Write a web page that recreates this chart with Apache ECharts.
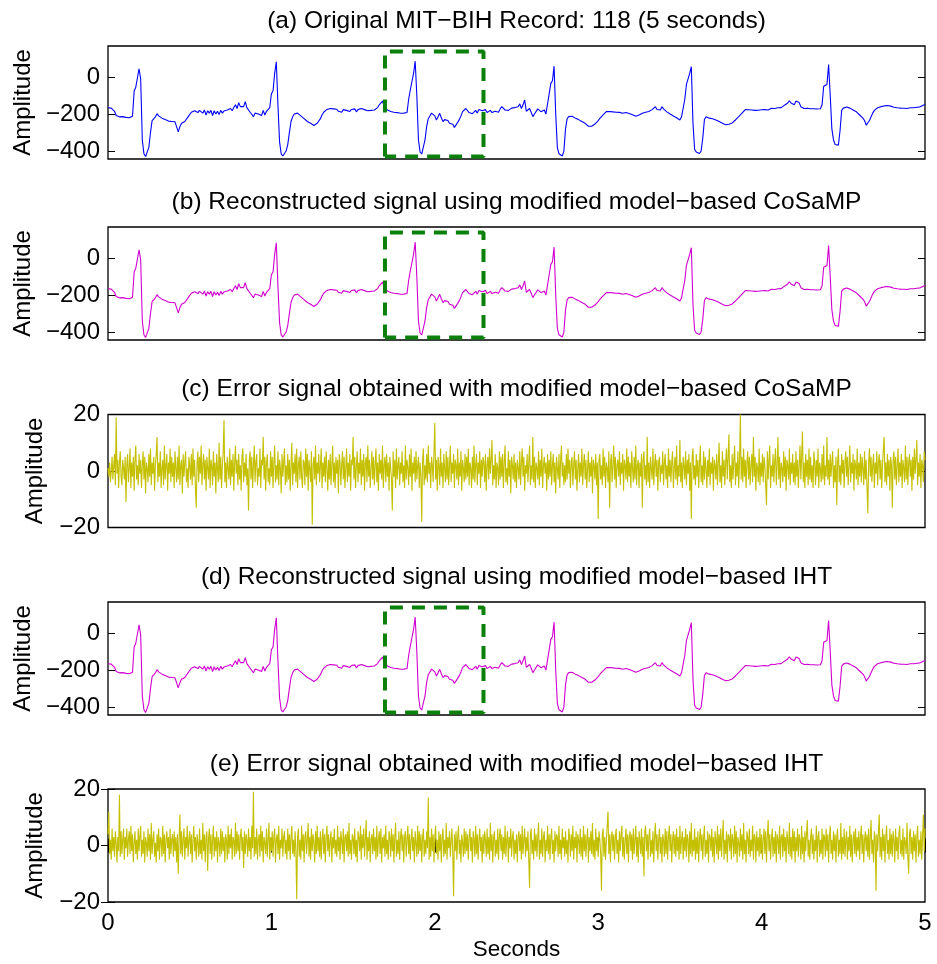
<!DOCTYPE html>
<html>
<head>
<meta charset="utf-8">
<title>ECG reconstruction</title>
<script src="https://cdn.jsdelivr.net/npm/echarts@6/dist/echarts.min.js"></script>
<style>html,body{margin:0;padding:0;background:#fff}#chart{width:937px;height:964px}</style>
</head>
<body>
<div id="chart"></div>
<script>
// ---- data ----
const ecgStep = 0.01;   // seconds between listed ECG values
const errStep = 0.005;  // seconds between listed error values
const xTickLabels = [0, 1, 2, 3, 4, 5];
const ecgTicks = [-400, -200, 0];
const errTicks = [-20, 0, 20];
const panelTitles = [
  '(a) Original MIT\u2212BIH Record: 118 (5 seconds)',
  '(b) Reconstructed signal using modified model\u2212based CoSaMP',
  '(c) Error signal obtained with modified model\u2212based CoSaMP',
  '(d) Reconstructed signal using modified model\u2212based IHT',
  '(e) Error signal obtained with modified model\u2212based IHT'
];
// highlighted beat (dashed box): time and amplitude corners
const boxTimes = [1.695, 1.695, 2.298, 2.298, 1.695];
const boxAmps = [-430, 138, 138, -430, -430];

const originalSignal = [
-166,-165,-168,-175,-185,-208,-212,-215,-210,-214,-212,-218,-216,-220,-215,-212,-75,-55,-45,45,
-10,-340,-415,-430,-425,-380,-300,-235,-225,-215,-198,-210,-205,-222,-215,-230,-226,-238,-232,-240,
-236,-242,-252,-296,-268,-250,-256,-240,-232,-215,-208,-190,-200,-182,-178,-192,-180,-186,-195,-178,
-205,-182,-195,-180,-208,-182,-200,-185,-202,-180,-195,-183,-190,-178,-185,-170,-182,-165,-150,-170,
-138,-160,-150,-160,-133,-165,-170,-190,-200,-214,-195,-205,-200,-190,-208,-180,-205,-185,-175,-165,
-90,-75,20,83,-150,-350,-415,-427,-420,-400,-365,-300,-240,-215,-200,-208,-195,-205,-210,-215,
-225,-218,-240,-235,-250,-245,-262,-268,-250,-240,-225,-205,-190,-185,-175,-178,-170,-176,-172,-180,
-174,-185,-178,-190,-176,-185,-180,-172,-186,-175,-180,-172,-188,-176,-184,-170,-180,-176,-168,-182,
-175,-180,-172,-178,-175,-165,-150,-140,-130,-155,-162,-178,-180,-186,-182,-190,-185,-192,-188,-196,
-190,-195,-188,-192,-120,-70,-65,20,86,-100,-340,-405,-416,-412,-340,-268,-225,-210,-195,-187,
-210,-232,-215,-196,-220,-241,-230,-240,-235,-250,-259,-255,-272,-262,-245,-230,-210,-187,-195,-170,
-180,-192,-185,-198,-190,-180,-195,-175,-170,-182,-188,-176,-192,-185,-180,-192,-196,-185,-178,-190,
-172,-160,-151,-178,-170,-180,-175,-168,-172,-165,-170,-160,-145,-170,-150,-124,-185,-175,-170,-190,
-214,-200,-190,-172,-170,-187,-180,-178,-200,-210,-90,-34,-20,59,-200,-380,-415,-425,-427,-400,
-280,-225,-214,-210,-212,-218,-222,-226,-230,-235,-240,-246,-250,-258,-266,-272,-266,-260,-254,-245,
-235,-224,-215,-205,-195,-187,-192,-186,-193,-188,-196,-190,-197,-191,-189,-196,-199,-192,-194,-197,
-200,-204,-208,-212,-208,-205,-200,-196,-192,-190,-188,-186,-182,-176,-172,-160,-175,-185,-178,-160,
-172,-180,-188,-195,-200,-205,-210,-214,-220,-225,-232,-215,-210,-120,-40,-34,20,56,-250,-390,
-405,-410,-413,-400,-330,-230,-214,-218,-222,-220,-225,-228,-232,-236,-240,-245,-250,-255,-258,-260,
-255,-250,-248,-240,-232,-225,-214,-205,-195,-185,-176,-170,-177,-174,-178,-172,-180,-173,-179,-172,
-177,-171,-176,-170,-178,-173,-169,-176,-170,-174,-166,-172,-165,-160,-152,-150,-140,-128,-140,-150,
-150,-130,-121,-138,-160,-166,-170,-164,-169,-164,-171,-165,-171,-166,-173,-175,-171,-150,-50,-43,
-40,68,-100,-280,-340,-365,-373,-368,-290,-180,-168,-164,-162,-165,-168,-172,-178,-182,-188,-195,
-205,-212,-222,-235,-260,-255,-235,-215,-195,-180,-172,-166,-165,-160,-163,-156,-158,-154,-161,-157,
-155,-163,-160,-166,-161,-168,-162,-169,-164,-170,-163,-166,-160,-166,-159,-163,-157,-161,-154,-152,
-148
];
// At this scale the two reconstructions read the same as the original trace.
const reconstructedCoSaMP = originalSignal;
const reconstructedIHT = originalSignal;

const errorCoSaMP = [
1,-2,3,-4,0,5,-3,2,6,-5,19,-1,4,-6,3,7,-2,-5,4,1,
-3,5,-11,2,6,-4,1,8,-6,3,-2,5,-7,4,9,-3,2,-5,6,-1,
4,-6,2,7,-3,5,-8,3,1,-4,6,-2,8,-5,3,-1,5,-7,2,6,
12,-4,3,-2,7,-6,1,4,-5,9,-3,2,6,-7,3,-1,8,-4,5,-2,
3,-6,7,1,-4,5,-3,9,-5,2,4,-8,6,-2,3,7,-4,1,-6,5,
2,-3,6,-5,8,-2,4,-6,-13,3,7,-4,5,-1,9,-5,2,6,-3,4,
-7,5,1,-3,8,-6,4,2,-5,7,-2,3,-8,6,1,-4,10,-3,5,-6,
2,7,18,-4,3,-6,5,1,-3,8,-5,4,-2,6,-7,3,9,-1,4,-5,
6,-3,2,-7,5,8,-4,3,-2,6,-5,1,-14,4,7,-3,5,-6,2,9,
-4,3,6,-5,1,-2,8,-6,4,2,12,-3,5,-7,3,6,-4,1,-5,7,
-2,5,-6,3,9,-4,2,-3,7,-5,4,1,-8,6,-2,3,8,-5,2,-4,
6,-3,4,-7,2,10,-5,3,-1,6,-4,8,-6,2,5,-3,7,-2,-6,4,
3,-5,8,-2,6,-7,4,1,-4,7,-19,2,5,-3,9,-5,3,-1,6,-4,
2,8,-6,3,-2,5,-4,7,1,-7,4,-3,6,-5,2,9,-4,3,-6,5,
-1,4,-8,6,3,-5,2,7,-3,5,-6,1,8,-4,3,-2,6,-7,4,2,
12,-3,5,-6,2,7,-4,3,-1,8,-5,4,-2,6,-7,3,5,-4,9,-2,
4,-6,1,7,-3,5,-5,2,8,-4,3,-7,6,-1,4,-3,9,-6,2,5,
-4,6,-2,3,-7,5,1,-3,-14,7,-2,4,-6,8,-3,2,5,-5,3,-1,
7,-4,2,-6,9,-3,4,1,-5,6,-2,8,-7,3,-1,5,-4,7,-3,2,
5,-6,3,-2,-18,4,8,-5,2,-3,6,-4,9,-1,3,-6,5,2,-4,7,
17,-3,4,-7,5,2,-5,8,-2,3,-6,6,1,-4,7,-3,5,-5,2,9,
-4,3,-1,6,-6,4,2,-3,8,-5,3,-2,7,-7,4,1,-4,6,-3,5,
-2,8,-5,3,1,-6,5,-3,9,-4,2,6,-5,3,-1,7,-6,4,-2,5,
3,-4,6,-7,2,5,-3,8,-1,4,11,-5,2,-3,6,-6,3,1,-5,7,
-3,5,-2,6,-6,3,9,-4,1,-5,7,-2,4,-8,5,2,-3,6,-4,3,
-6,4,1,-3,7,-5,3,8,-2,5,-7,2,-1,6,-4,3,9,-5,2,-3,
12,-4,5,-6,3,1,-3,7,-5,4,-2,8,-6,2,5,-1,3,-7,6,-3,
4,-2,7,-5,2,6,-4,3,-8,5,1,-3,6,-6,4,9,-2,3,-5,2,
-4,6,-3,8,-1,4,-6,3,5,-5,2,7,-3,4,-7,1,6,-4,3,-2,
8,-5,2,6,-3,4,-6,1,7,-4,3,-2,5,-8,4,2,-3,6,-5,3,
-17,4,6,-3,2,-5,8,-2,5,-6,3,1,-4,7,-13,3,6,-4,2,9,
-3,5,-6,2,4,-2,7,-5,3,-1,6,-7,4,2,-3,8,-4,5,-2,3,
-6,7,1,-4,5,-3,9,-5,2,4,-6,3,-2,6,-13,4,7,-3,2,-5,
12,-4,3,-6,5,1,-3,8,-5,2,6,-2,4,-7,3,5,-4,2,-1,7,
-5,3,6,-3,2,-6,8,-2,4,-4,3,7,-6,1,5,-3,9,-5,2,-2,
11,-4,3,-6,5,2,-3,7,-5,4,-1,6,-7,3,-17,5,8,-3,2,-5,
6,-2,4,-6,3,9,-4,2,-5,7,-3,5,1,-6,4,-2,8,-5,3,-1,
5,-7,4,2,-3,6,-5,3,10,-4,2,-6,7,-2,4,-5,3,8,-3,5,
13,-4,2,-6,6,-3,4,9,-5,3,-2,7,-6,4,20,-3,5,-4,8,-2,
4,-6,3,7,-3,5,-5,2,6,-4,12,-2,5,-7,3,1,-4,8,-5,3,
-2,6,-4,5,2,-5,-12,7,-3,4,9,-6,2,-2,6,-4,3,8,-5,2,
12,-3,5,-6,3,1,-4,7,-2,5,-7,4,2,-3,8,-5,3,-1,6,-4,
3,-5,7,-2,4,-6,2,9,-3,5,14,-4,3,-6,6,-2,4,-5,8,-3,
5,-4,2,-6,7,3,-5,4,-2,8,-6,3,1,-4,6,-3,9,-5,2,-2,
12,-3,4,-5,6,-2,3,7,-6,2,-4,5,-12,3,8,-4,2,-5,6,-1,
4,-6,3,7,-2,5,-5,2,9,-4,3,-1,6,-7,4,2,-3,8,-5,3,
-2,6,-4,5,1,-5,7,-3,4,-6,-15,3,8,-2,5,-4,2,6,-6,3,
-1,7,-5,3,6,-3,4,-6,2,8,12,-4,3,-5,6,-2,4,-7,5,2,
-13,4,7,-3,5,-5,2,8,-4,3,-2,6,-6,4,1,-4,9,-3,5,-5,
3,6,-2,4,-7,5,-3,8,-1,4,11,-5,3,-2,6,-6,4,2,-4,7,
4
];

const errorIHT = [
4,12,-3,2,-5,6,-2,3,-4,5,1,-6,3,-2,18,-4,5,-3,2,6,
-5,3,-1,6,-4,2,5,-3,7,-2,4,-6,1,5,-3,2,-5,6,-2,3,
7,-4,2,-3,5,-6,3,1,-4,6,-2,4,-5,8,-3,2,5,-4,1,-6,
4,-2,6,-5,3,2,-4,7,-3,4,-6,2,5,-1,3,-5,6,-3,2,4,
-4,5,-2,3,-6,4,-10,2,11,-3,5,-4,2,6,-5,3,-1,7,-4,2,
5,-3,4,-6,2,7,-2,3,-5,4,1,-4,6,-3,2,-5,8,-2,4,-6,
3,5,-9,2,6,-3,4,-5,2,7,-4,3,-2,5,-6,3,1,-4,6,-3,
5,-2,3,-6,4,2,-5,7,-3,4,-1,6,-5,3,2,-4,8,-3,5,-2,
4,-5,3,6,-2,3,-8,5,-3,4,2,-4,6,-2,3,-5,7,-1,19,-4,
3,-3,6,-5,2,4,-4,7,-2,5,-6,3,1,-3,6,-4,2,8,-5,3,
-2,5,-4,3,6,-6,2,4,-3,7,-5,2,-1,6,-4,3,5,-3,2,-5,
6,-2,4,-5,3,7,-3,2,-4,5,-2,-19,3,6,-4,2,-5,7,-2,4,
-6,3,5,-3,2,8,-4,3,-5,6,-2,4,1,-6,5,-3,7,-2,3,-4,
5,-5,2,6,-3,4,-6,3,7,-2,4,-4,2,5,-6,3,-1,6,-3,2,
-4,7,-2,3,-5,5,2,-3,6,-6,3,4,-2,5,-4,8,-3,2,-5,4,
3,-3,6,-4,2,-6,5,3,-2,7,-5,4,-1,6,-4,2,9,-5,3,-2,
5,-6,2,4,-3,6,-2,3,-5,7,-4,2,5,-3,6,-6,3,-1,4,-4,
7,-3,2,-5,5,3,-4,6,-2,4,-6,3,8,-4,2,-3,5,-5,3,6,
-2,4,-6,3,5,-4,2,7,-3,4,-5,2,6,-2,3,-6,5,1,-4,7,
-3,5,-2,4,-6,3,6,-4,2,-3,5,-1,17,-5,3,-4,6,-2,4,-6,
3,7,-3,2,-5,5,-2,4,-6,3,6,-4,2,-3,8,-5,3,-1,5,-4,
2,6,-3,-18,4,-2,5,-5,3,7,-3,2,-6,4,1,-4,6,-3,5,-2,
4,-5,3,6,-2,3,-6,5,2,-4,7,-3,4,-5,2,6,-2,3,-6,4,
-3,5,2,-4,6,-3,3,-5,8,-2,4,-6,3,5,-4,2,-3,6,-5,3,
6,-2,4,-5,3,-3,7,-4,2,5,-6,3,-1,6,-4,3,5,-5,2,-3,
4,-6,3,5,-2,4,-5,7,-3,2,6,-4,3,-2,5,-5,-15,4,6,-3,
2,-5,6,-2,4,-4,3,8,-5,2,-3,6,-4,3,5,-6,2,-2,7,-3,
4,-5,3,6,-3,2,-6,5,-2,4,3,-4,7,-3,2,-5,6,-1,3,-4,
5,-3,2,-6,6,3,-4,4,-2,7,-5,3,-1,5,-6,4,2,-3,6,-4,
3,-5,7,-2,4,-4,2,6,-6,3,-2,5,-3,8,-4,2,-5,6,-2,3,
-4,5,2,-3,-16,4,6,-4,3,-5,2,7,12,-3,4,-6,3,5,-2,4,
-5,3,6,-3,2,-6,5,-2,4,7,-4,3,-5,2,6,-3,4,-6,3,5,
-2,4,-5,6,-3,2,7,-4,3,-6,5,2,-3,6,-4,3,-11,5,7,-2,
4,-5,3,6,-4,2,-3,5,-6,3,8,-2,4,-5,2,6,-3,3,-6,4,
2,-4,6,-3,5,-5,3,7,-2,4,-6,2,5,-3,4,-4,6,-2,3,-5,
7,-3,2,5,-5,3,-2,6,-4,4,2,-6,5,-3,8,-4,2,-2,6,-5,
3,-3,5,-6,2,6,-2,4,-5,3,7,-4,2,-3,5,-6,4,3,-2,6,
-4,3,-6,5,2,-3,7,-5,4,-2,6,-4,3,9,-5,2,-3,5,-6,4,
3,-2,6,-5,4,2,-4,7,-3,5,-6,3,1,-4,6,-2,4,-5,8,-3,
2,-6,5,3,-3,6,-4,2,-2,7,-5,4,3,-6,5,-2,3,-4,6,-3,
4,-5,2,6,-3,5,-6,3,9,-2,4,-5,2,6,-4,3,-3,5,-6,4,
2,-3,7,-5,3,4,-4,6,-2,3,-6,5,2,-3,8,-4,3,-5,6,-2,
5,-6,3,-2,6,-4,4,2,-5,7,-3,3,-6,5,-2,4,9,-4,2,-5,
3,6,-3,4,-5,2,-2,7,-6,3,5,-4,2,-3,6,-5,4,3,-4,6,
-2,4,-6,3,7,-3,2,-5,5,-2,4,-6,3,6,-4,2,-3,8,-5,3,
-3,6,-4,2,5,-5,3,-2,7,-4,4,-6,2,5,-3,6,-4,3,-2,5,
-5,3,7,-3,4,-6,2,5,-2,4,-4,6,-5,3,9,-3,2,-6,5,3,
-16,4,-2,5,11,-4,3,-5,6,-2,4,-6,3,7,-3,2,-5,6,-3,4,
-4,5,2,-6,6,-2,3,-5,4,7,-3,2,-4,6,-5,3,1,-3,8,-4,
-10,4,6,-3,3,-5,5,-2,4,-6,3,7,-4,2,-3,5,-5,3,11,-2,
6
];

// ---- chart ----
const FONT = "'Liberation Sans', Arial, Helvetica, sans-serif";
const toPairs = (arr, step) => arr.map((v, i) => [+(i * step).toFixed(3), v]);
const boxPairs = boxTimes.map((t, i) => [t, boxAmps[i]]);
const minusFmt = v => (v < 0 ? '\u2212' + Math.abs(v) : String(v));

const panels = [
  { data: originalSignal, step: ecgStep, color: '#0000ff', kind: 'ecg', box: true },
  { data: reconstructedCoSaMP, step: ecgStep, color: '#d000d0', kind: 'ecg', box: true },
  { data: errorCoSaMP, step: errStep, color: '#c4c000', kind: 'err', box: false },
  { data: reconstructedIHT, step: ecgStep, color: '#d000d0', kind: 'ecg', box: true },
  { data: errorIHT, step: errStep, color: '#c4c000', kind: 'err', box: false }
];
const tops = [46, 227, 414.5, 602, 789];
const gridH = 113;

const grids = [], xAxes = [], yAxes = [], series = [], graphics = [];
panels.forEach((p, i) => {
  grids.push({ left: 108, width: 817, top: tops[i], height: gridH, show: true,
    borderColor: '#000', borderWidth: 1.3, backgroundColor: 'transparent' });
  const isLast = i === panels.length - 1;
  xAxes.push({
    type: 'value', gridIndex: i, min: 0, max: 5, interval: 1,
    show: isLast,
    axisLine: { show: false },
    axisTick: { show: true, inside: true, length: 7, lineStyle: { color: '#000', width: 1 } },
    axisLabel: { show: true, color: '#000', fontFamily: FONT, fontSize: 24, margin: 9,
      customValues: xTickLabels },
    splitLine: { show: false },
    name: isLast ? 'Seconds' : '', nameLocation: 'middle', nameGap: 36,
    nameTextStyle: { color: '#000', fontFamily: FONT, fontSize: 22.5 }
  });
  const ecg = p.kind === 'ecg';
  const ticks = ecg ? ecgTicks : errTicks;
  const range = ecg ? { min: -443, max: 168 } : { min: -20, max: 20 };
  yAxes.push({
    type: 'value', gridIndex: i, position: 'left', min: range.min, max: range.max,
    axisLine: { show: false },
    axisTick: { show: true, inside: true, length: 7, customValues: ticks, lineStyle: { color: '#000', width: 1 } },
    axisLabel: { show: true, color: '#000', fontFamily: FONT, fontSize: 24, margin: 8,
      customValues: ticks, formatter: minusFmt },
    splitLine: { show: false },
    name: 'Amplitude', nameLocation: 'middle', nameRotate: 90, nameGap: ecg ? 73 : 61,
    nameTextStyle: { color: '#000', fontFamily: FONT, fontSize: 24 }
  });
  yAxes.push({
    type: 'value', gridIndex: i, position: 'right', min: range.min, max: range.max,
    axisLine: { show: false },
    axisTick: { show: true, inside: true, length: 7, customValues: ticks, lineStyle: { color: '#000', width: 1 } },
    axisLabel: { show: false },
    splitLine: { show: false }
  });
  series.push({
    type: 'line', xAxisIndex: i, yAxisIndex: 2 * i, data: toPairs(p.data, p.step),
    showSymbol: false, symbol: 'none', silent: true, z: 2,
    lineStyle: { color: p.color, width: 1.1 }
  });
  if (p.box) {
    series.push({
      type: 'line', xAxisIndex: i, yAxisIndex: 2 * i, data: boxPairs,
      showSymbol: false, symbol: 'none', silent: true, z: 5,
      lineStyle: { color: '#0b800b', width: 4, type: [13, 9] }
    });
  }
  graphics.push({
    type: 'text', x: 516.5, y: tops[i] - 25,
    style: { text: panelTitles[i], fill: '#000', font: '24.5px ' + FONT,
      textAlign: 'center', textVerticalAlign: 'middle' }
  });
});
// top ticks of the last panel
xAxes.push({
  type: 'value', gridIndex: 4, position: 'top', min: 0, max: 5, interval: 1,
  axisLine: { show: false },
  axisTick: { show: true, inside: true, length: 7, lineStyle: { color: '#000', width: 1 } },
  axisLabel: { show: false }, splitLine: { show: false }
});

const chart = echarts.init(document.getElementById('chart'), null, { renderer: 'canvas' });
chart.setOption({
  animation: false,
  backgroundColor: '#fff',
  grid: grids, xAxis: xAxes, yAxis: yAxes, series: series, graphic: graphics
});
</script>
</body>
</html>
